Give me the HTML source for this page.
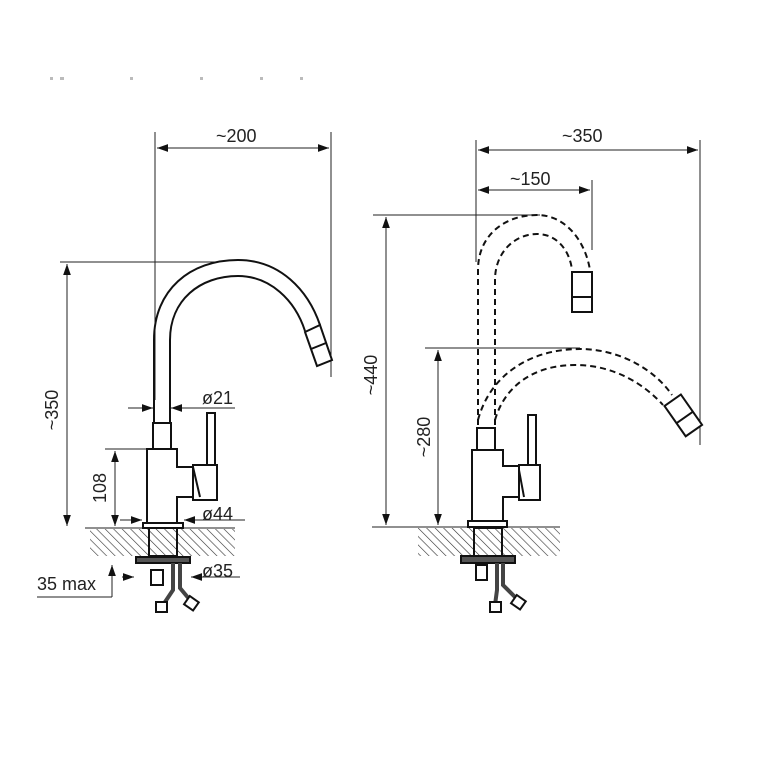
<!DOCTYPE html>
<html><head><meta charset="utf-8"><style>body{margin:0;background:#fff}svg{display:block}text{font-family:"Liberation Sans",sans-serif;font-size:18px;fill:#222}</style></head><body>
<svg width="761" height="761" viewBox="0 0 761 761" xmlns="http://www.w3.org/2000/svg">
<defs>
<pattern id="h" width="6" height="6" patternUnits="userSpaceOnUse" patternTransform="rotate(-45)"><line x1="0" y1="0" x2="0" y2="6" stroke="#333" stroke-width="1.2"/></pattern>
<marker id="a" viewBox="0 0 10 10" refX="10" refY="5" markerWidth="11" markerHeight="11" orient="auto-start-reverse" markerUnits="userSpaceOnUse"><path d="M0,1.5 L10,5 L0,8.5z" fill="#111"/></marker>
</defs>
<g fill="none" stroke="#222" stroke-width="1">
<line x1="155" y1="132" x2="155" y2="400"/><line x1="331" y1="132" x2="331" y2="377"/>
<line x1="157" y1="148" x2="329" y2="148" marker-start="url(#a)" marker-end="url(#a)"/>
<line x1="60" y1="262" x2="218" y2="262"/>
<line x1="67" y1="264" x2="67" y2="526" marker-start="url(#a)" marker-end="url(#a)"/>
<line x1="105" y1="449" x2="147" y2="449"/>
<line x1="115" y1="451" x2="115" y2="526" marker-start="url(#a)" marker-end="url(#a)"/>
<line x1="128" y1="408" x2="153" y2="408" marker-end="url(#a)"/><line x1="235" y1="408" x2="171" y2="408" marker-end="url(#a)"/>
<line x1="120" y1="520" x2="142" y2="520" marker-end="url(#a)"/><line x1="245" y1="520" x2="184" y2="520" marker-end="url(#a)"/>
<line x1="122" y1="577" x2="134" y2="577" marker-end="url(#a)"/><line x1="240" y1="577" x2="191" y2="577" marker-end="url(#a)"/>
<line x1="112" y1="597" x2="112" y2="565" marker-end="url(#a)"/><line x1="37" y1="597" x2="112" y2="597"/>
<line x1="85" y1="528" x2="235" y2="528"/>
<line x1="476" y1="140" x2="476" y2="262"/><line x1="700" y1="140" x2="700" y2="445"/>
<line x1="478" y1="150" x2="698" y2="150" marker-start="url(#a)" marker-end="url(#a)"/>
<line x1="592" y1="180" x2="592" y2="250"/>
<line x1="478" y1="190" x2="590" y2="190" marker-start="url(#a)" marker-end="url(#a)"/>
<line x1="373" y1="215" x2="540" y2="215"/>
<line x1="386" y1="217" x2="386" y2="525" marker-start="url(#a)" marker-end="url(#a)"/>
<line x1="425" y1="348" x2="580" y2="348"/>
<line x1="438" y1="350" x2="438" y2="525" marker-start="url(#a)" marker-end="url(#a)"/>
<line x1="372" y1="527" x2="560" y2="527"/>
</g>
<rect x="90" y="529" width="145" height="27" fill="url(#h)"/>
<rect x="418" y="528" width="142" height="28" fill="url(#h)"/>
<g fill="#fff" stroke="#111" stroke-width="2">
<path d="M154,423 L154,340 C154,290 190,260 238,260 C280,260 308,290 320,325" fill="none"/>
<path d="M170,423 L170,340 C170,300 200,276 238,276 C270,276 295,300 305,331" fill="none"/>
<path d="M305,332 L320,325 L332,360 L317,366 Z"/><line x1="311" y1="349" x2="326" y2="343"/>
<rect x="153" y="423" width="18" height="26"/>
<path d="M147,449 L177,449 L177,467 L193,467 L193,497 L177,497 L177,523 L147,523 Z"/>
<rect x="207" y="413" width="8" height="52"/>
<rect x="193" y="465" width="24" height="35"/><path d="M193,467 L200,497"/>
<rect x="143" y="523" width="40" height="5"/>
<rect x="149" y="528" width="28" height="28" fill="none"/>
<rect x="136" y="557" width="54" height="6" fill="#555"/>
<rect x="151" y="570" width="12" height="15"/>
<path d="M173,563 L173,590 L163,605 M180,563 L180,588 L190,600" fill="none" stroke-width="4" stroke="#444"/>
<rect x="156" y="602" width="11" height="10"/><rect x="186" y="598" width="11" height="10" transform="rotate(35 191 603)"/>
<rect x="477" y="428" width="18" height="22"/>
<path d="M472,450 L503,450 L503,466 L519,466 L519,497 L503,497 L503,522 L472,522 Z"/>
<rect x="528" y="415" width="8" height="50"/>
<rect x="519" y="465" width="21" height="35"/><path d="M519,470 L524,497"/>
<rect x="468" y="521" width="39" height="6"/>
<rect x="474" y="528" width="28" height="28" fill="none"/>
<rect x="461" y="556" width="54" height="7" fill="#555"/>
<rect x="476" y="565" width="11" height="15"/>
<path d="M497,563 L497,590 L495,605 M503,563 L503,585 L518,600" fill="none" stroke-width="4" stroke="#444"/>
<rect x="490" y="602" width="11" height="10"/><rect x="513" y="597" width="11" height="10" transform="rotate(35 518 602)"/>
<rect x="572" y="272" width="20" height="40"/><line x1="572" y1="297" x2="592" y2="297"/>
<g transform="rotate(-35 683 415)"><rect x="673" y="397" width="20" height="37"/><line x1="673" y1="418" x2="693" y2="418"/></g>
</g>
<g fill="none" stroke="#111" stroke-width="2" stroke-dasharray="6,4">
<path d="M478,425 L478,270 C478,235 505,215 537,215 C565,215 585,240 590,270"/>
<path d="M495,425 L495,280 C495,252 515,234 537,234 C558,234 570,252 572,270"/>
<path d="M478,420 C490,375 530,349 580,349 C620,349 655,370 672,395"/>
<path d="M495,420 C505,385 535,365 575,365 C615,365 645,385 663,405"/>
</g>
<text x="216" y="142">~200</text>
<text x="202" y="404">ø21</text>
<text x="202" y="520">ø44</text>
<text x="202" y="577">ø35</text>
<text x="37" y="590">35 max</text>
<text transform="translate(58,410) rotate(-90)" text-anchor="middle">~350</text>
<text transform="translate(106,488) rotate(-90)" text-anchor="middle">108</text>
<text x="562" y="142">~350</text>
<text x="510" y="185">~150</text>
<text transform="translate(377,375) rotate(-90)" text-anchor="middle">~440</text>
<text transform="translate(430,437) rotate(-90)" text-anchor="middle">~280</text>
<g fill="#bbb"><rect x="50" y="77" width="3" height="3"/><rect x="60" y="77" width="4" height="3"/><rect x="130" y="77" width="3" height="3"/><rect x="200" y="77" width="3" height="3"/><rect x="260" y="77" width="3" height="3"/><rect x="300" y="77" width="3" height="3"/></g>
</svg>
</body></html>
